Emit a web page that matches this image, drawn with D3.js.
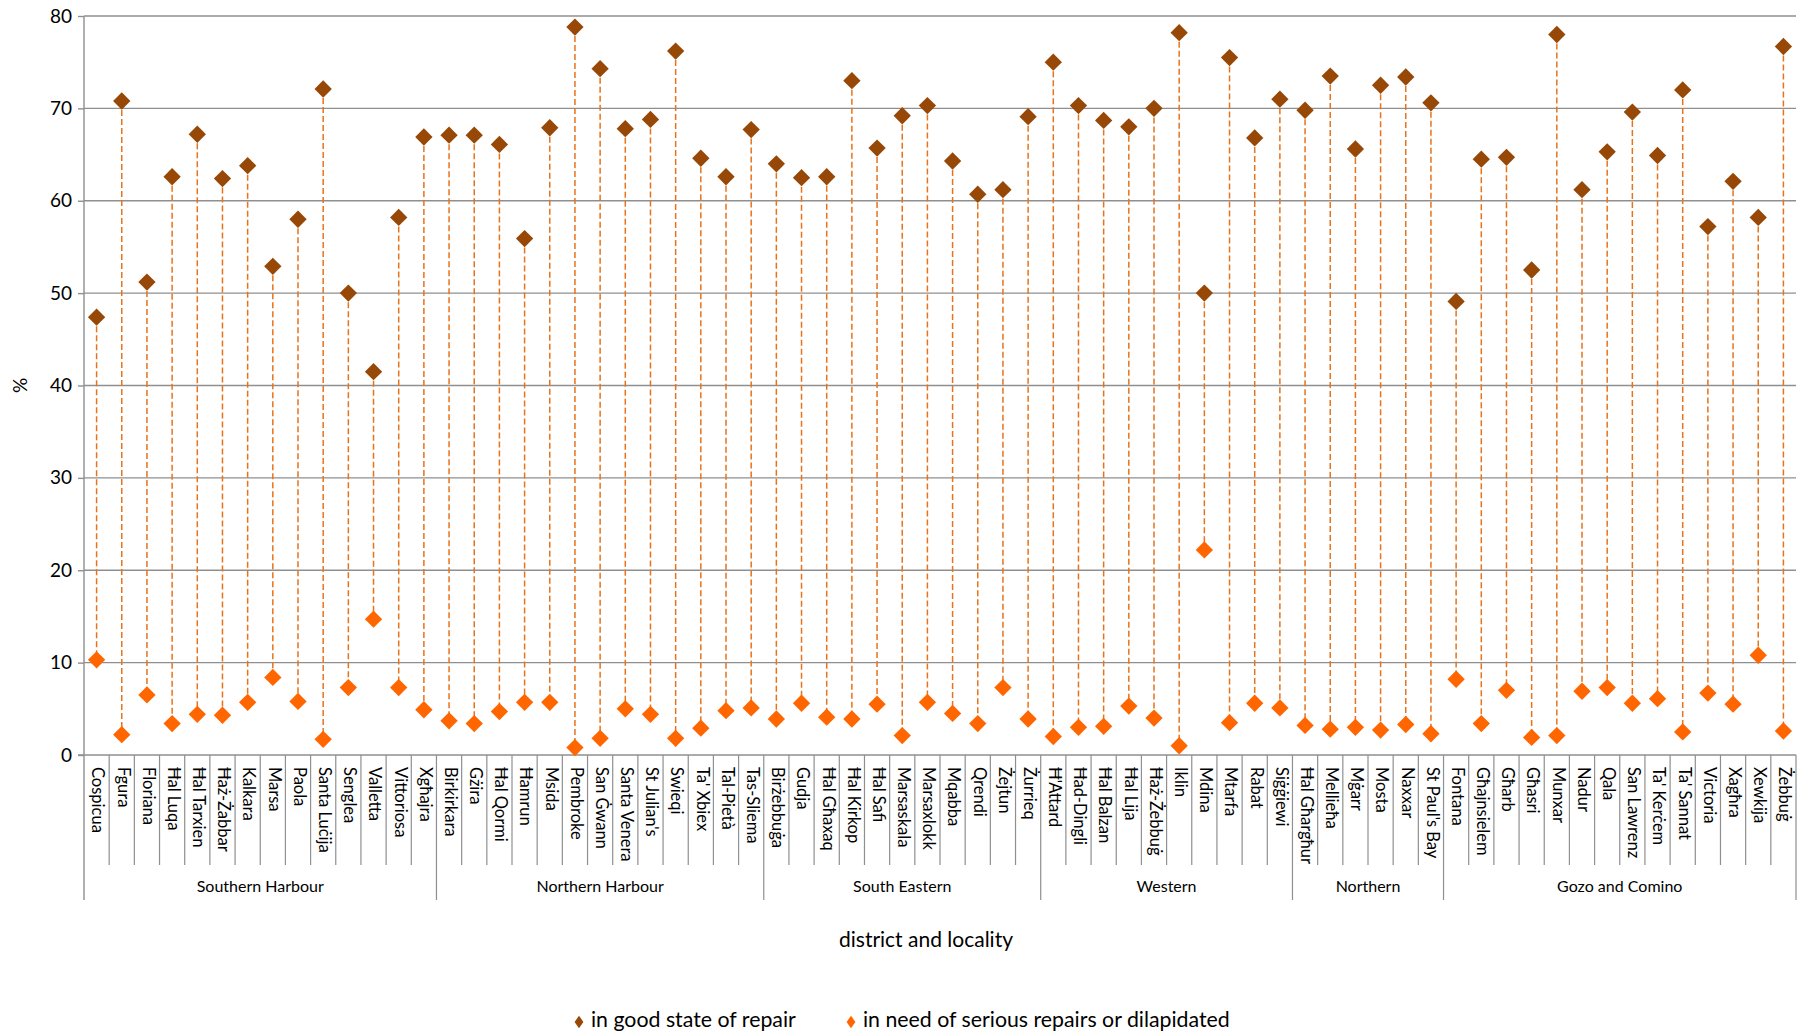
<!DOCTYPE html>
<html>
<head>
<meta charset="utf-8">
<script src="https://cdn.jsdelivr.net/npm/d3@7"></script>
<style>
html, body { margin: 0; padding: 0; background: #fff; }
svg { display: block; }
text { font-family: Lato, "Noto Sans", sans-serif; fill: #000; }
</style>
</head>
<body>
<svg id="chart" width="1802" height="1035"></svg>
<script>
const categories = ["Cospicua","Fgura","Floriana","Ħal Luqa","Ħal Tarxien","Ħaż-Żabbar","Kalkara","Marsa","Paola","Santa Luċija","Senglea","Valletta","Vittoriosa","Xgħajra",
"Birkirkara","Gżira","Ħal Qormi","Ħamrun","Msida","Pembroke","San Ġwann","Santa Venera","St Julian's","Swieqi","Ta' Xbiex","Tal-Pietà","Tas-Sliema",
"Birżebbuġa","Gudja","Ħal Għaxaq","Ħal Kirkop","Ħal Safi","Marsaskala","Marsaxlokk","Mqabba","Qrendi","Żejtun","Żurrieq",
"Ħ'Attard","Ħad-Dingli","Ħal Balzan","Ħal Lija","Ħaż-Żebbuġ","Iklin","Mdina","Mtarfa","Rabat","Siġġiewi",
"Ħal Għargħur","Mellieħa","Mġarr","Mosta","Naxxar","St Paul's Bay",
"Fontana","Għajnsielem","Għarb","Għasri","Munxar","Nadur","Qala","San Lawrenz","Ta' Kerċem","Ta' Sannat","Victoria","Xagħra","Xewkija","Żebbuġ"];

const districts = ["Southern Harbour","Northern Harbour","South Eastern","Western","Northern","Gozo and Comino"];
const districtCounts = [14, 13, 11, 10, 6, 14];

const goodRepair = [47.4,70.8,51.2,62.6,67.2,62.4,63.8,52.9,58.0,72.1,50.0,41.5,58.2,66.9,
67.1,67.1,66.1,55.9,67.9,78.8,74.3,67.8,68.8,76.2,64.6,62.6,67.7,
64.0,62.5,62.6,73.0,65.7,69.2,70.3,64.3,60.7,61.2,69.1,
75.0,70.3,68.7,68.0,70.0,78.2,50.0,75.5,66.8,71.0,
69.8,73.5,65.6,72.5,73.4,70.6,
49.1,64.5,64.7,52.5,78.0,61.2,65.3,69.6,64.9,72.0,57.2,62.1,58.2,76.7];

const poorRepair = [10.3,2.2,6.5,3.4,4.4,4.3,5.7,8.4,5.8,1.7,7.3,14.7,7.3,4.9,
3.7,3.4,4.7,5.7,5.7,0.8,1.8,5.0,4.4,1.8,2.9,4.8,5.1,
3.9,5.6,4.1,3.9,5.5,2.1,5.7,4.5,3.4,7.3,3.9,
2.0,3.0,3.1,5.3,4.0,1.0,22.2,3.5,5.6,5.1,
3.2,2.8,3.0,2.7,3.3,2.3,
8.2,3.4,7.0,1.9,2.1,6.9,7.3,5.6,6.1,2.5,6.7,5.5,10.8,2.6];

const yTicks = [0,10,20,30,40,50,60,70,80];
const seriesNames = ["in good state of repair","in need of serious repairs or dilapidated"];

(function () {
const colGood = "#974806", colPoor = "#FF6600", colLine = "#E8731A", colGrid = "#8f8f8f";

const svg = d3.select("#chart");
const pLeft = 84, pRight = 1796, pTop = 16, pBottom = 755;
const x = d3.scaleBand().domain(categories).range([pLeft, pRight]).padding(0);
const y = d3.scaleLinear().domain([0, 80]).range([pBottom, pTop]);

// gridlines
svg.append("g").selectAll("line").data(yTicks.filter(d => d > 0)).join("line")
  .attr("x1", pLeft).attr("x2", pRight)
  .attr("y1", d => y(d)).attr("y2", d => y(d))
  .attr("stroke", colGrid).attr("stroke-width", 1.4);

// y axis
const yAxis = svg.append("g").attr("transform", `translate(${pLeft},0)`)
  .call(d3.axisLeft(y).tickValues(yTicks).tickSize(6).tickPadding(6).tickFormat(d3.format("d")));
yAxis.select(".domain").remove();
yAxis.selectAll(".tick line").attr("stroke", colGrid).attr("stroke-width", 1.4);
yAxis.selectAll(".tick text").style("font-size", "19px").style("font-family", "Lato").attr("fill", "#000");

svg.append("line").attr("x1", pLeft).attr("x2", pLeft).attr("y1", pTop).attr("y2", 900)
  .attr("stroke", colGrid).attr("stroke-width", 1.4);
svg.append("line").attr("x1", pLeft - 6).attr("x2", pRight).attr("y1", pBottom).attr("y2", pBottom)
  .attr("stroke", colGrid).attr("stroke-width", 1.4);

// category separators
const bw = x.bandwidth();
svg.append("g").selectAll("line").data(categories.slice(1)).join("line")
  .attr("x1", d => x(d)).attr("x2", d => x(d))
  .attr("y1", pBottom).attr("y2", 865)
  .attr("stroke", colGrid).attr("stroke-width", 1.2);
svg.append("line").attr("x1", pRight).attr("x2", pRight).attr("y1", pBottom).attr("y2", 900)
  .attr("stroke", colGrid).attr("stroke-width", 1.2);

// category labels
svg.append("g").selectAll("text").data(categories).join("text")
  .attr("transform", d => `translate(${x(d) + bw / 2},${pBottom + 12}) rotate(90)`)
  .attr("text-anchor", "start").attr("dominant-baseline", "middle")
  .style("font-size", "16.5px")
  .text(d => d);

// district separators & labels
let start = 0;
const dData = districts.map((name, i) => { const s = start; start += districtCounts[i]; return {name, s, e: start}; });
svg.append("g").selectAll("line").data(dData.slice(1)).join("line")
  .attr("x1", d => x(categories[d.s])).attr("x2", d => x(categories[d.s]))
  .attr("y1", 865).attr("y2", 900)
  .attr("stroke", colGrid).attr("stroke-width", 1.2);
svg.append("g").selectAll("text").data(dData).join("text")
  .attr("x", d => (x(categories[d.s]) + x(categories[d.e - 1]) + bw) / 2)
  .attr("y", 888).attr("text-anchor", "middle").attr("dominant-baseline", "middle")
  .style("font-size", "16px")
  .text(d => d.name);

// high-low dashed lines
svg.append("g").selectAll("line").data(categories).join("line")
  .attr("x1", d => x(d) + bw / 2).attr("x2", d => x(d) + bw / 2)
  .attr("y1", (d, i) => y(goodRepair[i])).attr("y2", (d, i) => y(poorRepair[i]))
  .attr("stroke", colLine).attr("stroke-width", 1.5).attr("stroke-dasharray", "6,3");

const diamond = d3.symbol().type(d3.symbolSquare).size(150);
svg.append("g").selectAll("path").data(categories).join("path")
  .attr("d", diamond)
  .attr("transform", (d, i) => `translate(${x(d) + bw / 2},${y(goodRepair[i])}) rotate(45)`)
  .attr("fill", colGood);
svg.append("g").selectAll("path").data(categories).join("path")
  .attr("d", diamond)
  .attr("transform", (d, i) => `translate(${x(d) + bw / 2},${y(poorRepair[i])}) rotate(45)`)
  .attr("fill", colPoor);

// axis titles
svg.append("text").attr("transform", `translate(22,${y(40)}) rotate(-90)`)
  .attr("text-anchor", "middle").attr("dominant-baseline", "middle")
  .style("font-size", "19px").text("%");
svg.append("text").attr("x", 926).attr("y", 942)
  .attr("text-anchor", "middle").attr("dominant-baseline", "middle")
  .style("font-size", "21px").text("district and locality");

// legend
const legendItems = [{name: seriesNames[0], color: colGood, x: 579}, {name: seriesNames[1], color: colPoor, x: 851}];
const lg = svg.append("g").selectAll("g").data(legendItems).join("g")
  .attr("transform", d => `translate(${d.x},1022)`);
lg.append("path").attr("d", d3.symbol().type(d3.symbolSquare).size(60)).attr("transform", "scale(0.8,1.15) rotate(45)").attr("fill", d => d.color);
lg.append("text").attr("x", 12).attr("y", 0).attr("dominant-baseline", "middle")
  .style("font-size", "21.3px").text(d => d.name);
})();
</script>
</body>
</html>
